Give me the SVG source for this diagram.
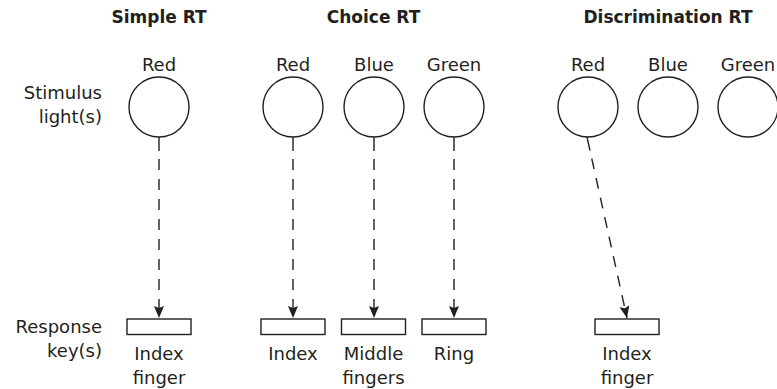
<svg xmlns="http://www.w3.org/2000/svg" width="777" height="389" viewBox="0 0 777 389">
  <style>
    .bg { fill: #ffffff; }
    .title { font-family: "DejaVu Sans", "Liberation Sans", sans-serif; font-weight: bold; font-size: 17px; fill: #231f20; text-anchor: middle; }
    .lbl { font-family: "DejaVu Sans", "Liberation Sans", sans-serif; font-size: 18px; fill: #231f20; text-anchor: middle; }
    .side { font-family: "DejaVu Sans", "Liberation Sans", sans-serif; font-size: 18px; fill: #231f20; text-anchor: end; }
    .light { fill: #ffffff; stroke: #231f20; stroke-width: 1.4; }
    .key { fill: #ffffff; stroke: #231f20; stroke-width: 1.4; }
    .link { fill: none; stroke: #231f20; stroke-width: 1.4; stroke-dasharray: 14 8 11 9 11 9 11 9 11 9 11 9 11 9 11 9 11 9 11 9; marker-end: url(#arrow); }
  </style>
  <defs>
    <marker id="arrow" markerUnits="userSpaceOnUse" markerWidth="14" markerHeight="12" refX="12" refY="5" orient="auto">
      <path d="M0,0 L12,5 L0,10 L2,5 z" fill="#231f20"/>
    </marker>
  </defs>

  <rect class="bg" x="0" y="0" width="777" height="389"/>

  <!-- column headings -->
  <g id="headings">
    <text class="title" x="159" y="23">Simple RT</text>
    <text class="title" x="373.5" y="23">Choice RT</text>
    <text class="title" x="668" y="23">Discrimination RT</text>
  </g>

  <!-- row captions -->
  <g id="row-captions">
    <text class="side" x="102" y="99">Stimulus</text>
    <text class="side" x="102" y="123">light(s)</text>
    <text class="side" x="102" y="333">Response</text>
    <text class="side" x="102" y="357">key(s)</text>
  </g>

  <!-- stimulus lights -->
  <g id="simple-red">
    <text class="lbl" x="159" y="71">Red</text>
    <circle class="light" cx="159" cy="107" r="30"/>
  </g>
  <g id="choice-red">
    <text class="lbl" x="293" y="71">Red</text>
    <circle class="light" cx="293" cy="107" r="30"/>
  </g>
  <g id="choice-blue">
    <text class="lbl" x="374" y="71">Blue</text>
    <circle class="light" cx="374" cy="107" r="30"/>
  </g>
  <g id="choice-green">
    <text class="lbl" x="454" y="71">Green</text>
    <circle class="light" cx="454" cy="107" r="30"/>
  </g>
  <g id="disc-red">
    <text class="lbl" x="588" y="71">Red</text>
    <circle class="light" cx="588" cy="107" r="30"/>
  </g>
  <g id="disc-blue">
    <text class="lbl" x="668" y="71">Blue</text>
    <circle class="light" cx="668" cy="107" r="30"/>
  </g>
  <g id="disc-green">
    <text class="lbl" x="748" y="71">Green</text>
    <circle class="light" cx="748" cy="107" r="30"/>
  </g>

  <!-- response keys -->
  <g id="simple-key">
    <rect class="key" x="127" y="319" width="64" height="15.5"/>
    <text class="lbl" x="159" y="360">Index</text>
    <text class="lbl" x="159" y="384">finger</text>
  </g>
  <g id="choice-key-index">
    <rect class="key" x="261" y="319" width="64" height="15.5"/>
    <text class="lbl" x="293" y="360">Index</text>
  </g>
  <g id="choice-key-middle">
    <rect class="key" x="341.5" y="319" width="64" height="15.5"/>
    <text class="lbl" x="373.5" y="360">Middle</text>
    <text class="lbl" x="373.5" y="384">fingers</text>
  </g>
  <g id="choice-key-ring">
    <rect class="key" x="422" y="319" width="64" height="15.5"/>
    <text class="lbl" x="454" y="360">Ring</text>
  </g>
  <g id="disc-key">
    <rect class="key" x="595" y="319" width="64" height="15.5"/>
    <text class="lbl" x="627" y="360">Index</text>
    <text class="lbl" x="627" y="384">finger</text>
  </g>

  <!-- stimulus-to-key connectors -->
  <g id="connectors">
    <line class="link" x1="159" y1="137" x2="159" y2="318"/>
    <line class="link" x1="293" y1="137" x2="293" y2="318"/>
    <line class="link" x1="374" y1="137" x2="374" y2="318"/>
    <line class="link" x1="454" y1="137" x2="454" y2="318"/>
    <line class="link" x1="587" y1="137" x2="627" y2="318"/>
  </g>
</svg>
